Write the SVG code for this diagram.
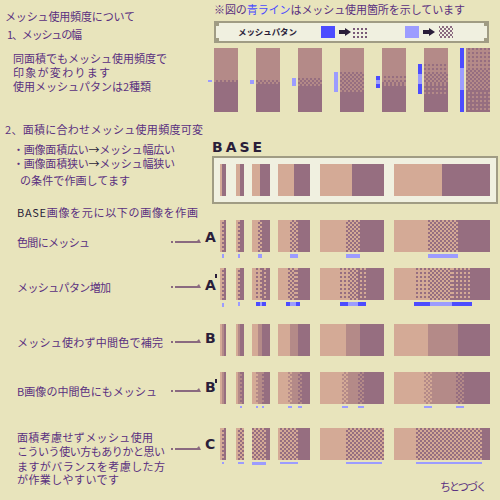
<svg xmlns="http://www.w3.org/2000/svg" width="500" height="500" viewBox="0 0 500 500">
<style>
.t{font-family:"Noto Sans CJK JP","Noto Sans",sans-serif;font-size:11px;fill:#5a3080}
.dk{fill:#2a1e3a}
.bl{fill:#4c4cff}
.lb{fill:#9c9cff}
.L{fill:#d4aa96}
.D{fill:#966e80}
.M{fill:#b48a88}
.box{fill:#f0f0e0;stroke:#a09c84;stroke-width:2}
.let{font-family:"DejaVu Sans","Liberation Sans",sans-serif;font-weight:bold;font-size:14px;fill:#2a1e3a}
.arr{stroke:#8a6a80;stroke-width:2;fill:none}
.ah{fill:#8a6a80}
</style>
<defs>
<pattern id="chkMD" width="4" height="4" patternUnits="userSpaceOnUse"><rect width="4" height="4" fill="#b48a88"/><rect width="2" height="2" fill="#966e80"/><rect x="2" y="2" width="2" height="2" fill="#966e80"/></pattern>
<pattern id="chkLD" width="4" height="4" patternUnits="userSpaceOnUse"><rect width="4" height="4" fill="#d4aa96"/><rect width="2" height="2" fill="#966e80"/><rect x="2" y="2" width="2" height="2" fill="#966e80"/></pattern>
<pattern id="chkLM" width="4" height="4" patternUnits="userSpaceOnUse"><rect width="4" height="4" fill="#d4aa96"/><rect width="2" height="2" fill="#b48a88"/><rect x="2" y="2" width="2" height="2" fill="#b48a88"/></pattern>
<pattern id="dotDM" width="4" height="4" patternUnits="userSpaceOnUse"><rect width="4" height="4" fill="#b48a88"/><rect width="2" height="2" fill="#966e80"/></pattern>
<pattern id="dotMD" width="4" height="4" patternUnits="userSpaceOnUse"><rect width="4" height="4" fill="#966e80"/><rect width="2" height="2" fill="#b48a88"/></pattern>
<pattern id="dotDL" width="4" height="4" patternUnits="userSpaceOnUse"><rect width="4" height="4" fill="#d4aa96"/><rect width="2" height="2" fill="#966e80"/></pattern>
<pattern id="dotLD" width="4" height="4" patternUnits="userSpaceOnUse"><rect width="4" height="4" fill="#966e80"/><rect width="2" height="2" fill="#d4aa96"/></pattern>
<pattern id="legDot" width="4" height="4" patternUnits="userSpaceOnUse"><rect width="4" height="4" fill="#f0f0e0"/><rect x="1" y="0" width="2" height="2" fill="#7a5a78"/></pattern>
<pattern id="legChk" width="4" height="4" patternUnits="userSpaceOnUse"><rect width="4" height="4" fill="#f0f0e0"/><rect width="2" height="2" fill="#8a6a80"/><rect x="2" y="2" width="2" height="2" fill="#8a6a80"/></pattern>
</defs>
<rect width="500" height="500" fill="#e8e4bc"/>

<g id="texts-left">
<text class="t" x="5" y="21" textLength="130" lengthAdjust="spacing">メッシュ使用頻度について</text>
<text class="t" x="7" y="39" textLength="75" lengthAdjust="spacing">1、メッシュの幅</text>
<text class="t" x="13" y="63" textLength="154" lengthAdjust="spacing">同面積でもメッシュ使用頻度で</text>
<text class="t" x="13" y="77" textLength="97" lengthAdjust="spacing">印象が変わります</text>
<text class="t" x="13" y="91" textLength="138" lengthAdjust="spacing">使用メッシュパタンは2種類</text>
<text class="t" x="5" y="134" textLength="198" lengthAdjust="spacing">2、面積に合わせメッシュ使用頻度可変</text>
<text class="t" x="13" y="154" textLength="162" lengthAdjust="spacing">・画像面積広い<tspan class="dk">→</tspan>メッシュ幅広い</text>
<text class="t" x="13" y="168" textLength="162" lengthAdjust="spacing">・画像面積狭い<tspan class="dk">→</tspan>メッシュ幅狭い</text>
<text class="t" x="20" y="185" textLength="110" lengthAdjust="spacing">の条件で作画してます</text>
<text class="t" x="17" y="217" textLength="181" lengthAdjust="spacing"><tspan class="dk">BASE</tspan>画像を元に以下の画像を作画</text>
<text class="t" x="17" y="247" textLength="73" lengthAdjust="spacing">色間にメッシュ</text>
<text class="t" x="17" y="292" textLength="94" lengthAdjust="spacing">メッシュパタン増加</text>
<text class="t" x="17" y="347" textLength="146" lengthAdjust="spacing">メッシュ使わず中間色で補完</text>
<text class="t" x="17" y="396" textLength="140" lengthAdjust="spacing">B画像の中間色にもメッシュ</text>
<text class="t" x="17" y="442" textLength="136" lengthAdjust="spacing">面積考慮せずメッシュ使用</text>
<text class="t" x="17" y="456" textLength="148" lengthAdjust="spacing">こういう使い方もありかと思い</text>
<text class="t" x="17" y="471" textLength="148" lengthAdjust="spacing">ますがバランスを考慮した方</text>
<text class="t" x="17" y="484" textLength="102" lengthAdjust="spacing">が作業しやすいです</text>
<text class="t" x="440" y="491" textLength="47" lengthAdjust="spacing">ちとつづく</text>
</g>

<g id="legend">
<text class="t" x="214" y="14" textLength="251" lengthAdjust="spacing">※図の<tspan class="bl">青ライン</tspan>はメッシュ使用箇所を示しています</text>
<rect class="box" x="215" y="22" width="273" height="20"/>
<rect x="216" y="23" width="3" height="3" fill="#a09c84"/><rect x="484" y="23" width="3" height="3" fill="#a09c84"/>
<rect x="216" y="38" width="3" height="3" fill="#a09c84"/><rect x="484" y="38" width="3" height="3" fill="#a09c84"/>
<text x="238" y="35" font-family="'Noto Sans CJK JP',sans-serif" font-weight="bold" font-size="8.5" fill="#2a1e3a" textLength="59" lengthAdjust="spacing">メッシュパタン</text>
<rect x="321" y="26" width="14" height="12" fill="#4c4cff"/>
<polygon points="339,30 345,30 345,28 351,32 345,36 345,34 339,34" fill="#2a1e3a"/>
<rect x="353" y="26" width="14" height="12" fill="url(#legDot)"/>
<rect x="405" y="26" width="14" height="12" fill="#9c9cff"/>
<polygon points="423,30 429,30 429,28 435,32 429,36 429,34 423,34" fill="#2a1e3a"/>
<rect x="439" y="26" width="14" height="12" fill="url(#legChk)"/>
</g>

<g id="sec1">
<rect class="M" x="214" y="48" width="24" height="32"/><rect x="214" y="80" width="24" height="2" fill="url(#chkMD)"/><rect class="D" x="214" y="82" width="24" height="30"/>
<rect class="M" x="256" y="48" width="24" height="32"/><rect x="256" y="80" width="24" height="4" fill="url(#chkMD)"/><rect class="D" x="256" y="84" width="24" height="28"/>
<rect class="M" x="298" y="48" width="24" height="30"/><rect x="298" y="78" width="24" height="8" fill="url(#chkMD)"/><rect class="D" x="298" y="86" width="24" height="26"/>
<rect class="M" x="340" y="48" width="24" height="24"/><rect x="340" y="72" width="24" height="20" fill="url(#chkMD)"/><rect class="D" x="340" y="92" width="24" height="20"/>
<rect class="M" x="382" y="48" width="24" height="28"/><rect x="382" y="76" width="24" height="4" fill="url(#dotDM)"/><rect x="382" y="80" width="24" height="4" fill="url(#chkMD)"/><rect x="382" y="84" width="24" height="4" fill="url(#dotMD)"/><rect class="D" x="382" y="88" width="24" height="24"/>
<rect class="M" x="424" y="48" width="24" height="16"/><rect x="424" y="64" width="24" height="10" fill="url(#dotDM)"/><rect x="424" y="74" width="24" height="10" fill="url(#chkMD)"/><rect x="424" y="84" width="24" height="10" fill="url(#dotMD)"/><rect class="D" x="424" y="94" width="24" height="18"/>
<rect x="466" y="48" width="24" height="20" fill="url(#dotDM)"/><rect x="466" y="68" width="24" height="22" fill="url(#chkMD)"/><rect x="466" y="90" width="24" height="22" fill="url(#dotMD)"/>
<rect class="lb" x="208" y="80" width="4" height="2"/>
<rect class="lb" x="250" y="80" width="4" height="4"/>
<rect class="lb" x="292" y="78" width="4" height="8"/>
<rect class="lb" x="334" y="72" width="4" height="20"/>
<rect class="bl" x="376" y="76" width="4" height="4"/><rect class="lb" x="376" y="80" width="4" height="4"/><rect class="bl" x="376" y="84" width="4" height="4"/>
<rect class="bl" x="418" y="64" width="4" height="10"/><rect class="lb" x="418" y="74" width="4" height="10"/><rect class="bl" x="418" y="84" width="4" height="10"/>
<rect class="bl" x="460" y="48" width="4" height="20"/><rect class="lb" x="460" y="68" width="4" height="22"/><rect class="bl" x="460" y="90" width="4" height="22"/>
</g>

<g id="base">
<text class="let" x="212" y="152" font-family="'DejaVu Sans Mono',monospace" letter-spacing="3">BASE</text>
<rect class="box" x="213" y="157" width="284" height="46"/>
<rect class="L" x="220" y="164" width="2" height="32"/><rect class="D" x="222" y="164" width="4" height="32"/>
<rect class="L" x="236" y="164" width="4" height="32"/><rect class="D" x="240" y="164" width="4" height="32"/>
<rect class="L" x="252" y="164" width="8" height="32"/><rect class="D" x="260" y="164" width="10" height="32"/>
<rect class="L" x="278" y="164" width="16" height="32"/><rect class="D" x="294" y="164" width="16" height="32"/>
<rect class="L" x="320" y="164" width="32" height="32"/><rect class="D" x="352" y="164" width="32" height="32"/>
<rect class="L" x="394" y="164" width="48" height="32"/><rect class="D" x="442" y="164" width="48" height="32"/>
</g>

<g id="rowA">
<text class="let" x="205" y="242">A</text>
<rect class="L" x="220" y="220" width="2" height="32"/><rect x="222" y="220" width="2" height="32" fill="url(#chkLD)"/><rect class="D" x="224" y="220" width="2" height="32"/>
<rect class="L" x="236" y="220" width="2" height="32"/><rect x="238" y="220" width="2" height="32" fill="url(#chkLD)"/><rect class="D" x="240" y="220" width="4" height="32"/>
<rect class="L" x="252" y="220" width="6" height="32"/><rect x="258" y="220" width="4" height="32" fill="url(#chkLD)"/><rect class="D" x="262" y="220" width="8" height="32"/>
<rect class="L" x="278" y="220" width="12" height="32"/><rect x="290" y="220" width="8" height="32" fill="url(#chkLD)"/><rect class="D" x="298" y="220" width="12" height="32"/>
<rect class="L" x="320" y="220" width="26" height="32"/><rect x="346" y="220" width="14" height="32" fill="url(#chkLD)"/><rect class="D" x="360" y="220" width="24" height="32"/>
<rect class="L" x="394" y="220" width="34" height="32"/><rect x="428" y="220" width="30" height="32" fill="url(#chkLD)"/><rect class="D" x="458" y="220" width="32" height="32"/>
<rect class="lb" x="222" y="254" width="2" height="4"/><rect class="lb" x="238" y="254" width="2" height="4"/><rect class="lb" x="258" y="254" width="4" height="4"/><rect class="lb" x="290" y="254" width="8" height="4"/><rect class="lb" x="346" y="254" width="14" height="4"/><rect class="lb" x="428" y="254" width="30" height="4"/>
</g>

<g id="rowA2">
<text class="let" x="205" y="290">A</text><rect class="dk" x="215" y="274" width="2" height="4"/>
<rect class="L" x="220" y="268" width="2" height="32"/><rect x="222" y="268" width="2" height="32" fill="url(#chkLD)"/><rect class="D" x="224" y="268" width="2" height="32"/>
<rect class="L" x="236" y="268" width="2" height="32"/><rect x="238" y="268" width="2" height="32" fill="url(#chkLD)"/><rect class="D" x="240" y="268" width="4" height="32"/>
<rect class="L" x="252" y="268" width="4" height="32"/><rect x="256" y="268" width="4" height="32" fill="url(#dotDL)"/><rect x="260" y="268" width="2" height="32" fill="url(#chkLD)"/><rect x="262" y="268" width="4" height="32" fill="url(#dotLD)"/><rect class="D" x="266" y="268" width="4" height="32"/>
<rect class="L" x="278" y="268" width="8" height="32"/><rect x="286" y="268" width="4" height="32" fill="url(#dotDL)"/><rect x="290" y="268" width="6" height="32" fill="url(#chkLD)"/><rect x="296" y="268" width="4" height="32" fill="url(#dotLD)"/><rect class="D" x="300" y="268" width="10" height="32"/>
<rect class="L" x="320" y="268" width="20" height="32"/><rect x="340" y="268" width="8" height="32" fill="url(#dotDL)"/><rect x="348" y="268" width="10" height="32" fill="url(#chkLD)"/><rect x="358" y="268" width="8" height="32" fill="url(#dotLD)"/><rect class="D" x="366" y="268" width="18" height="32"/>
<rect class="L" x="394" y="268" width="20" height="32"/><rect x="414" y="268" width="16" height="32" fill="url(#dotDL)"/><rect x="430" y="268" width="22" height="32" fill="url(#chkLD)"/><rect x="452" y="268" width="20" height="32" fill="url(#dotLD)"/><rect class="D" x="472" y="268" width="18" height="32"/>
<rect class="lb" x="222" y="303" width="2" height="4"/><rect class="lb" x="238" y="302" width="2" height="4"/>
<rect class="bl" x="256" y="302" width="4" height="4"/><rect class="lb" x="260" y="302" width="2" height="4"/><rect class="bl" x="262" y="302" width="4" height="4"/>
<rect class="bl" x="286" y="302" width="4" height="4"/><rect class="lb" x="290" y="302" width="6" height="4"/><rect class="bl" x="296" y="302" width="4" height="4"/>
<rect class="bl" x="340" y="302" width="8" height="4"/><rect class="lb" x="348" y="302" width="10" height="4"/><rect class="bl" x="358" y="302" width="8" height="4"/>
<rect class="bl" x="414" y="302" width="16" height="4"/><rect class="lb" x="430" y="302" width="22" height="4"/><rect class="bl" x="452" y="302" width="20" height="4"/>
</g>

<g id="rowB">
<text class="let" x="205" y="343">B</text>
<rect class="L" x="220" y="324" width="2" height="32"/><rect class="M" x="222" y="324" width="2" height="32"/><rect class="D" x="224" y="324" width="2" height="32"/>
<rect class="L" x="236" y="324" width="2" height="32"/><rect class="M" x="238" y="324" width="2" height="32"/><rect class="D" x="240" y="324" width="4" height="32"/>
<rect class="L" x="252" y="324" width="6" height="32"/><rect class="M" x="258" y="324" width="4" height="32"/><rect class="D" x="262" y="324" width="8" height="32"/>
<rect class="L" x="278" y="324" width="12" height="32"/><rect class="M" x="290" y="324" width="8" height="32"/><rect class="D" x="298" y="324" width="12" height="32"/>
<rect class="L" x="320" y="324" width="26" height="32"/><rect class="M" x="346" y="324" width="14" height="32"/><rect class="D" x="360" y="324" width="24" height="32"/>
<rect class="L" x="394" y="324" width="34" height="32"/><rect class="M" x="428" y="324" width="30" height="32"/><rect class="D" x="458" y="324" width="32" height="32"/>
</g>

<g id="rowB2">
<text class="let" x="205" y="392">B</text><rect class="dk" x="215" y="379" width="2" height="4"/>
<rect class="L" x="220" y="372" width="2" height="32"/><rect class="M" x="222" y="372" width="2" height="32"/><rect class="D" x="224" y="372" width="2" height="32"/>
<rect class="L" x="236" y="372" width="2" height="32"/><rect class="M" x="238" y="372" width="2" height="32"/><rect x="240" y="372" width="2" height="32" fill="url(#chkMD)"/><rect class="D" x="242" y="372" width="2" height="32"/>
<rect class="L" x="252" y="372" width="4" height="32"/><rect x="256" y="372" width="2" height="32" fill="url(#chkLM)"/><rect class="M" x="258" y="372" width="4" height="32"/><rect x="262" y="372" width="2" height="32" fill="url(#chkMD)"/><rect class="D" x="264" y="372" width="6" height="32"/>
<rect class="L" x="278" y="372" width="10" height="32"/><rect x="288" y="372" width="4" height="32" fill="url(#chkLM)"/><rect class="M" x="292" y="372" width="6" height="32"/><rect x="298" y="372" width="4" height="32" fill="url(#chkMD)"/><rect class="D" x="302" y="372" width="8" height="32"/>
<rect class="L" x="320" y="372" width="22" height="32"/><rect x="342" y="372" width="6" height="32" fill="url(#chkLM)"/><rect class="M" x="348" y="372" width="10" height="32"/><rect x="358" y="372" width="6" height="32" fill="url(#chkMD)"/><rect class="D" x="364" y="372" width="20" height="32"/>
<rect class="L" x="394" y="372" width="30" height="32"/><rect x="424" y="372" width="8" height="32" fill="url(#chkLM)"/><rect class="M" x="432" y="372" width="24" height="32"/><rect x="456" y="372" width="8" height="32" fill="url(#chkMD)"/><rect class="D" x="464" y="372" width="26" height="32"/>
<rect class="lb" x="240" y="406" width="2" height="2"/><rect class="lb" x="256" y="406" width="2" height="2"/><rect class="lb" x="262" y="406" width="2" height="2"/>
<rect class="lb" x="288" y="406" width="4" height="2"/><rect class="lb" x="298" y="406" width="4" height="2"/>
<rect class="lb" x="342" y="406" width="6" height="2"/><rect class="lb" x="358" y="406" width="6" height="2"/>
<rect class="lb" x="424" y="406" width="8" height="2"/><rect class="lb" x="456" y="406" width="8" height="2"/>
</g>

<g id="rowC">
<text class="let" x="205" y="449">C</text>
<rect class="L" x="220" y="428" width="2" height="32"/><rect x="222" y="428" width="2" height="32" fill="url(#chkLD)"/><rect class="D" x="224" y="428" width="2" height="32"/>
<rect class="L" x="236" y="428" width="2" height="32"/><rect x="238" y="428" width="6" height="32" fill="url(#chkLD)"/>
<rect x="252" y="428" width="14" height="32" fill="url(#chkLD)"/><rect class="D" x="266" y="428" width="4" height="32"/>
<rect class="L" x="278" y="428" width="2" height="32"/><rect x="280" y="428" width="18" height="32" fill="url(#chkLD)"/><rect class="D" x="298" y="428" width="12" height="32"/>
<rect class="L" x="320" y="428" width="26" height="32"/><rect x="346" y="428" width="38" height="32" fill="url(#chkLD)"/>
<rect class="L" x="394" y="428" width="22" height="32"/><rect x="416" y="428" width="66" height="32" fill="url(#chkLD)"/><rect class="D" x="482" y="428" width="8" height="32"/>
<rect class="lb" x="222" y="462" width="2" height="2"/><rect class="lb" x="238" y="462" width="6" height="2"/><rect class="lb" x="252" y="462" width="14" height="3"/><rect class="lb" x="280" y="462" width="18" height="2"/><rect class="lb" x="346" y="462" width="36" height="2"/><rect class="lb" x="416" y="462" width="66" height="2"/>
</g>

<g id="connectors">
<path class="arr" d="M171 242H173M175 242H199"/><polygon class="ah" points="195,243 201,243 199,239"/>
<path class="arr" d="M171 287H173M175 287H199"/><polygon class="ah" points="195,288 201,288 199,284"/>
<path class="arr" d="M171 342H173M175 342H199"/><polygon class="ah" points="195,343 201,343 199,339"/>
<path class="arr" d="M171 391H173M175 391H199"/><polygon class="ah" points="195,392 201,392 199,388"/>
<path class="arr" d="M171 449H173M175 449H199"/><polygon class="ah" points="195,450 201,450 199,446"/>
</g>
</svg>
